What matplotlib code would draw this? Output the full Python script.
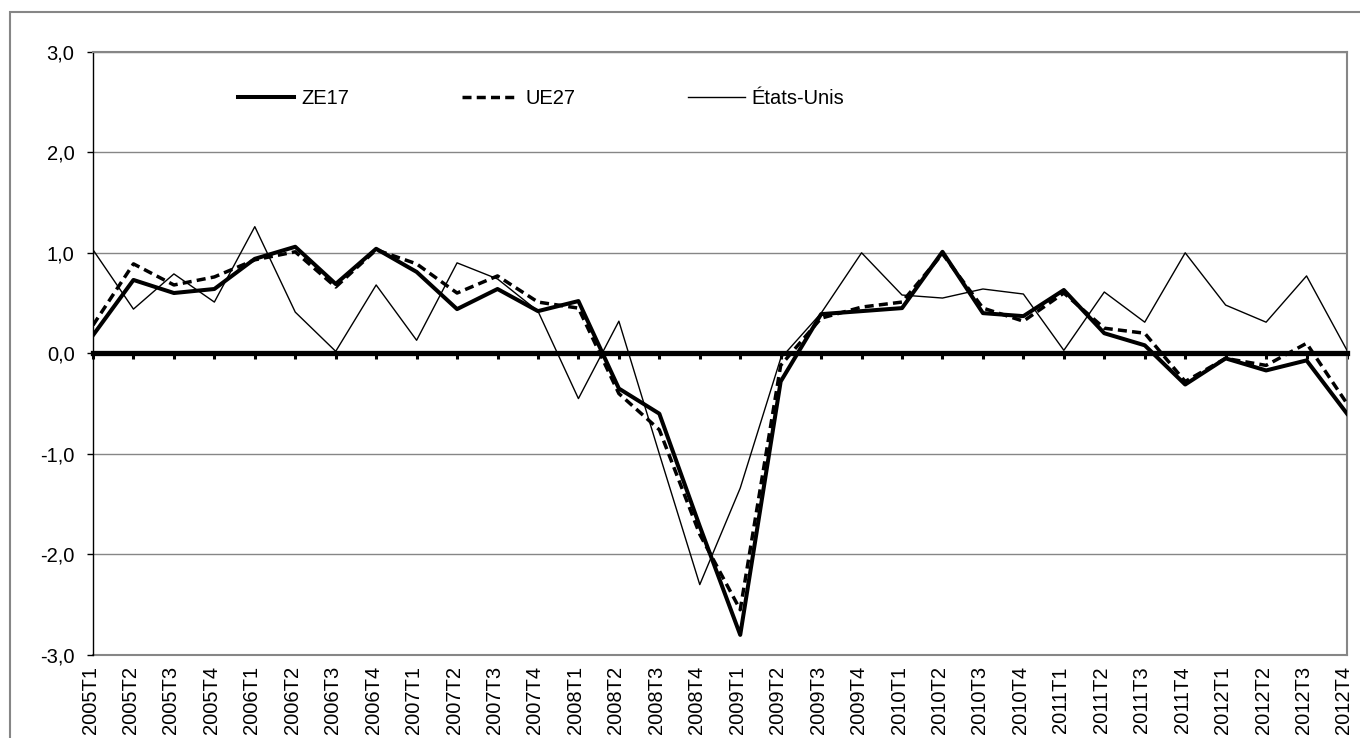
import numpy as np
import matplotlib
matplotlib.use('Agg')
import matplotlib.pyplot as plt
from matplotlib.patches import Rectangle
from matplotlib.transforms import ScaledTranslation

plt.rcParams['font.family'] = ['Liberation Sans', 'DejaVu Sans']

# Quarters 2005T1 .. 2012T4
quarters = [f"{y}T{q}" for y in range(2005, 2013) for q in range(1, 5)]

ze17 = [0.18, 0.73, 0.60, 0.64, 0.94, 1.06, 0.69, 1.04, 0.81, 0.44,
        0.64, 0.42, 0.52, -0.35, -0.60, -1.72, -2.80, -0.28, 0.39, 0.42,
        0.45, 1.01, 0.40, 0.37, 0.63, 0.20, 0.08, -0.31, -0.05, -0.17,
        -0.07, -0.60]
ue27 = [0.28, 0.89, 0.68, 0.76, 0.93, 1.01, 0.66, 1.03, 0.89, 0.60,
        0.77, 0.51, 0.45, -0.40, -0.76, -1.80, -2.55, -0.12, 0.35, 0.46,
        0.51, 0.99, 0.45, 0.32, 0.60, 0.25, 0.20, -0.28, -0.05, -0.12,
        0.10, -0.50]
usa = [1.03, 0.44, 0.79, 0.51, 1.26, 0.41, 0.02, 0.68, 0.13, 0.90,
       0.74, 0.42, -0.45, 0.32, -1.00, -2.30, -1.34, -0.05, 0.40, 1.00,
       0.58, 0.55, 0.64, 0.59, 0.03, 0.61, 0.31, 1.00, 0.48, 0.31,
       0.77, 0.03]

x = np.arange(len(quarters))
fs = 14.5
grey = '#868686'

fig = plt.figure(figsize=(13.6, 7.38), dpi=100)
ax = fig.add_axes([93 / 1360, 1 - 655 / 738, 1254 / 1360, (655 - 51.7) / 738])

ax.plot(x, ze17, color='black', linewidth=2.9, label='ZE17', zorder=4)
ax.plot(x, ue27, color='black', linewidth=2.5, dashes=[2.6, 1.5], label='UE27', zorder=4)
ax.plot(x, usa, color='black', linewidth=1.0, label='États-Unis', zorder=4)

ax.set_xlim(0, len(quarters) - 1)
ax.set_ylim(-3, 3)
ax.set_yticks(np.arange(-3, 4, 1))
ax.set_yticklabels([f"{v:.1f}".replace('.', ',') for v in np.arange(-3, 4, 1)], fontsize=fs)
ax.yaxis.grid(True, color=grey, linewidth=1.0)
ax.set_axisbelow(True)
ax.tick_params(axis='y', direction='out', length=4.3, width=1, pad=9)

# zero axis with category ticks
ax.spines['bottom'].set_position(('data', 0))
ax.spines['bottom'].set_linewidth(3.8)
ax.spines['bottom'].set_color('black')
ax.spines['bottom'].set_zorder(3)
ax.set_xticks(x)
ax.tick_params(axis='x', direction='out', length=4.5, width=2.2, labelbottom=False)

for s in ['top', 'right']:
    ax.spines[s].set_color(grey)
    ax.spines[s].set_linewidth(1.5)
ax.spines['left'].set_color('black')
ax.spines['left'].set_linewidth(1.0)

# category labels at bottom of plot area
sec = ax.secondary_xaxis('bottom')
sec.set_xticks(x)
sec.set_xticklabels(quarters, rotation=90, fontsize=fs)
sec.tick_params(length=0, pad=8)
sec.spines['bottom'].set_color(grey)
sec.spines['bottom'].set_linewidth(1.5)
shift = ScaledTranslation(-3 / 100, 0, fig.dpi_scale_trans)
for lab in sec.get_xticklabels():
    lab.set_transform(lab.get_transform() + shift)

leg = ax.legend(loc='center left', bbox_to_anchor=((238 - 93) / 1254, 0.923), ncol=3,
                frameon=False, fontsize=fs, handlelength=2.8, handletextpad=0.35,
                columnspacing=5.6, borderpad=0, borderaxespad=0)

# outer chart border
fig.patches.append(Rectangle((10 / 1360, -0.2), 2, 1.2 - 12 / 738, transform=fig.transFigure,
                             fill=False, edgecolor=grey, linewidth=1.5))

fig.savefig('out.png', dpi=100)
